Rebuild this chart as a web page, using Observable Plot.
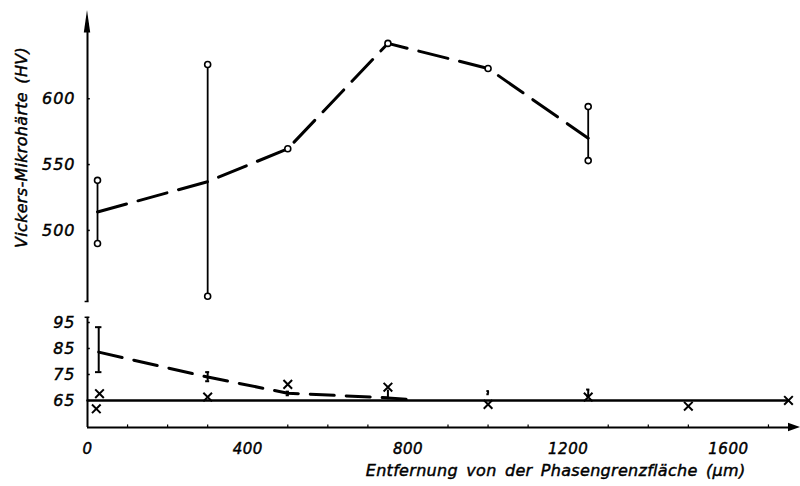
<!DOCTYPE html>
<html><head><meta charset="utf-8">
<script src="https://cdn.jsdelivr.net/npm/d3@7"></script>
<script src="https://cdn.jsdelivr.net/npm/@observablehq/plot@0.6"></script>
<style>
body{margin:0;background:#fff}
svg text{stroke:#000;stroke-width:0.45px;}
g[aria-label="text"] text{word-spacing:3px;letter-spacing:0.3px;}
g[aria-label="y-axis tick label"] text{letter-spacing:1px;}
g[aria-label="x-axis tick label"] text{letter-spacing:0.5px;}
</style>
</head><body><div id="chart"></div>
<script>
// Upper section: mean hardness line
const upperX = [25, 300, 500, 750, 1000, 1250];
const upperMean = [514, 537, 562, 642, 623, 570];
// Upper scatter bars (min/max with circles)
const upperBarX = [25, 300, 1250];
const upperBarLo = [490, 450, 553];
const upperBarHi = [538, 626, 594];
// Single circle points (no bar)
const upperSingleX = [500, 750, 1000];
const upperSingleY = [562, 642, 623];

// Lower section: dashed mean line
const lowerX = [28, 300, 500, 750, 800];
const lowerMean = [83.6, 74, 67.8, 66, 65.4];
// Lower error bars
const lowerBarX = [28, 300, 500, 750, 1000, 1250];
const lowerBarLo = [75.9, 72.4, 67.0, 65.3, 67.4, 66.8];
const lowerBarHi = [93.2, 75.9, 68.4, 69.0, 68.6, 69.2];
const lowerBarCap = [8, 5, 4, 0, 3, 4];
// Crosses (base material measurements)
const crossX = [30, 22, 300, 500, 750, 1000, 1250, 1500, 1750];
const crossY = [67.6, 61.8, 66.3, 71.2, 70.1, 63.5, 66.3, 62.8, 65];
// Baseline at 65 HV
const baseX = [0, 1750];
const baseY = 65;

// Axes
const upperTicks = [500, 550, 600];
const lowerTicks = [65, 75, 85, 95];
const xTicks = [0, 400, 800, 1200, 1600];
const xMinor = [100, 200, 300, 500, 600, 700, 900, 1000, 1100, 1300, 1400, 1500, 1700];
const upperAxis = [446, 667];
const lowerAxis = [54.6, 97];
const xAxisEnd = 1780;

const yLabel = "Vickers-Mikrohärte (HV)";
const xLabel = "Entfernung von der Phasengrenzfläche (µm)";

const upperLine = upperX.map((x, i) => ({x, y: upperMean[i]}));
const upperBars = upperBarX.map((x, i) => ({x, lo: upperBarLo[i], hi: upperBarHi[i]}));
const upperCircles = [
  ...upperBars.flatMap(d => [{x: d.x, y: d.lo}, {x: d.x, y: d.hi}]),
  ...upperSingleX.map((x, i) => ({x, y: upperSingleY[i]}))
];
const lowerLine = lowerX.map((x, i) => ({x, y: lowerMean[i]}));
const lowerBars = lowerBarX.map((x, i) => ({x, lo: lowerBarLo[i], hi: lowerBarHi[i], c: lowerBarCap[i]}));
const lowerCaps = lowerBars.filter(d => d.c > 0).flatMap(d => [{x: d.x, y: d.lo, c: d.c}, {x: d.x, y: d.hi, c: d.c}]);
const crosses = crossX.map((x, i) => ({x, y: crossY[i]}));

const yArrow = [{y: upperAxis[1] - 17, x1: -8, x2: 8}, {y: upperAxis[1], x1: 0, x2: 0}];
const xArrow = [{x: xAxisEnd - 30, y1: lowerAxis[0] - 1.6, y2: lowerAxis[0] + 1.6}, {x: xAxisEnd, y1: lowerAxis[0], y2: lowerAxis[0]}];

const chart = Plot.plot({
  width: 800,
  height: 486,
  marginLeft: 87,
  marginRight: 0,
  marginTop: 10,
  marginBottom: 59,
  style: {fontFamily: "'DejaVu Sans', sans-serif", fontStyle: "italic", fontSize: "16px", color: "#000", background: "#fff"},
  x: {domain: [0, xAxisEnd], range: [87, 800]},
  y: {type: "linear", domain: [54.6, 97, 446, 667], range: [427, 316.8, 301, 10]},
  marks: [
    // axis lines
    Plot.ruleX([0], {y1: upperAxis[0], y2: upperAxis[1] - 10, strokeWidth: 2}),
    Plot.ruleX([0], {y1: lowerAxis[0], y2: lowerAxis[1], strokeWidth: 2}),
    Plot.ruleY([upperAxis[0]], {x1: -6, x2: 4, strokeWidth: 1.5}),
    Plot.ruleY([lowerAxis[1]], {x1: -6, x2: 6, strokeWidth: 1.5}),
    Plot.areaX(yArrow, {y: "y", x1: "x1", x2: "x2", fill: "black"}),
    Plot.ruleY([lowerAxis[0]], {x1: 0, x2: xAxisEnd - 20, strokeWidth: 2}),
    Plot.areaY(xArrow, {x: "x", y1: "y1", y2: "y2", fill: "black"}),
    Plot.ruleY([...upperTicks, ...lowerTicks], {x1: 0, x2: 7, strokeWidth: 1.5}),
    Plot.ruleX(xMinor, {y1: lowerAxis[0], y2: lowerAxis[0] + 1, strokeWidth: 1.2}),
    Plot.axisY({ticks: [...upperTicks, ...lowerTicks], tickSize: 0, tickPadding: 12, label: null, tickFormat: d => String(d)}),
    Plot.axisX({ticks: xTicks, tickSize: 0, tickPadding: 16, label: null, tickFormat: d => String(d), fontSize: 15}),
    // labels
    Plot.text([yLabel], {x: -165, y: 563, rotate: -90, textAnchor: "middle", fontSize: 16}),
    Plot.text([xLabel], {frameAnchor: "bottom-right", dx: -55, dy: 48, textAnchor: "end", fontSize: 16}),
    // baseline
    Plot.line(baseX.map(x => ({x, y: baseY})), {x: "x", y: "y", strokeWidth: 2.5}),
    // lower section
    Plot.line(lowerLine, {x: "x", y: "y", strokeWidth: 3, strokeDasharray: "24,12"}),
    Plot.ruleX(lowerBars, {x: "x", y1: "lo", y2: "hi", strokeWidth: 2}),
    Plot.ruleY(lowerCaps, {y: "y", x1: d => d.x - d.c, x2: d => d.x + d.c, strokeWidth: 2}),
    Plot.dot(crosses, {x: "x", y: "y", symbol: "times", r: 4, stroke: "black", strokeWidth: 2}),
    // upper section
    Plot.line(upperLine, {x: "x", y: "y", strokeWidth: 3, strokeDasharray: "30,12"}),
    Plot.ruleX(upperBars, {x: "x", y1: "lo", y2: "hi", strokeWidth: 1.8}),
    Plot.dot(upperCircles, {x: "x", y: "y", r: 3, fill: "white", stroke: "black", strokeWidth: 1.6})
  ]
});
document.getElementById("chart").append(chart);
</script></body></html>
